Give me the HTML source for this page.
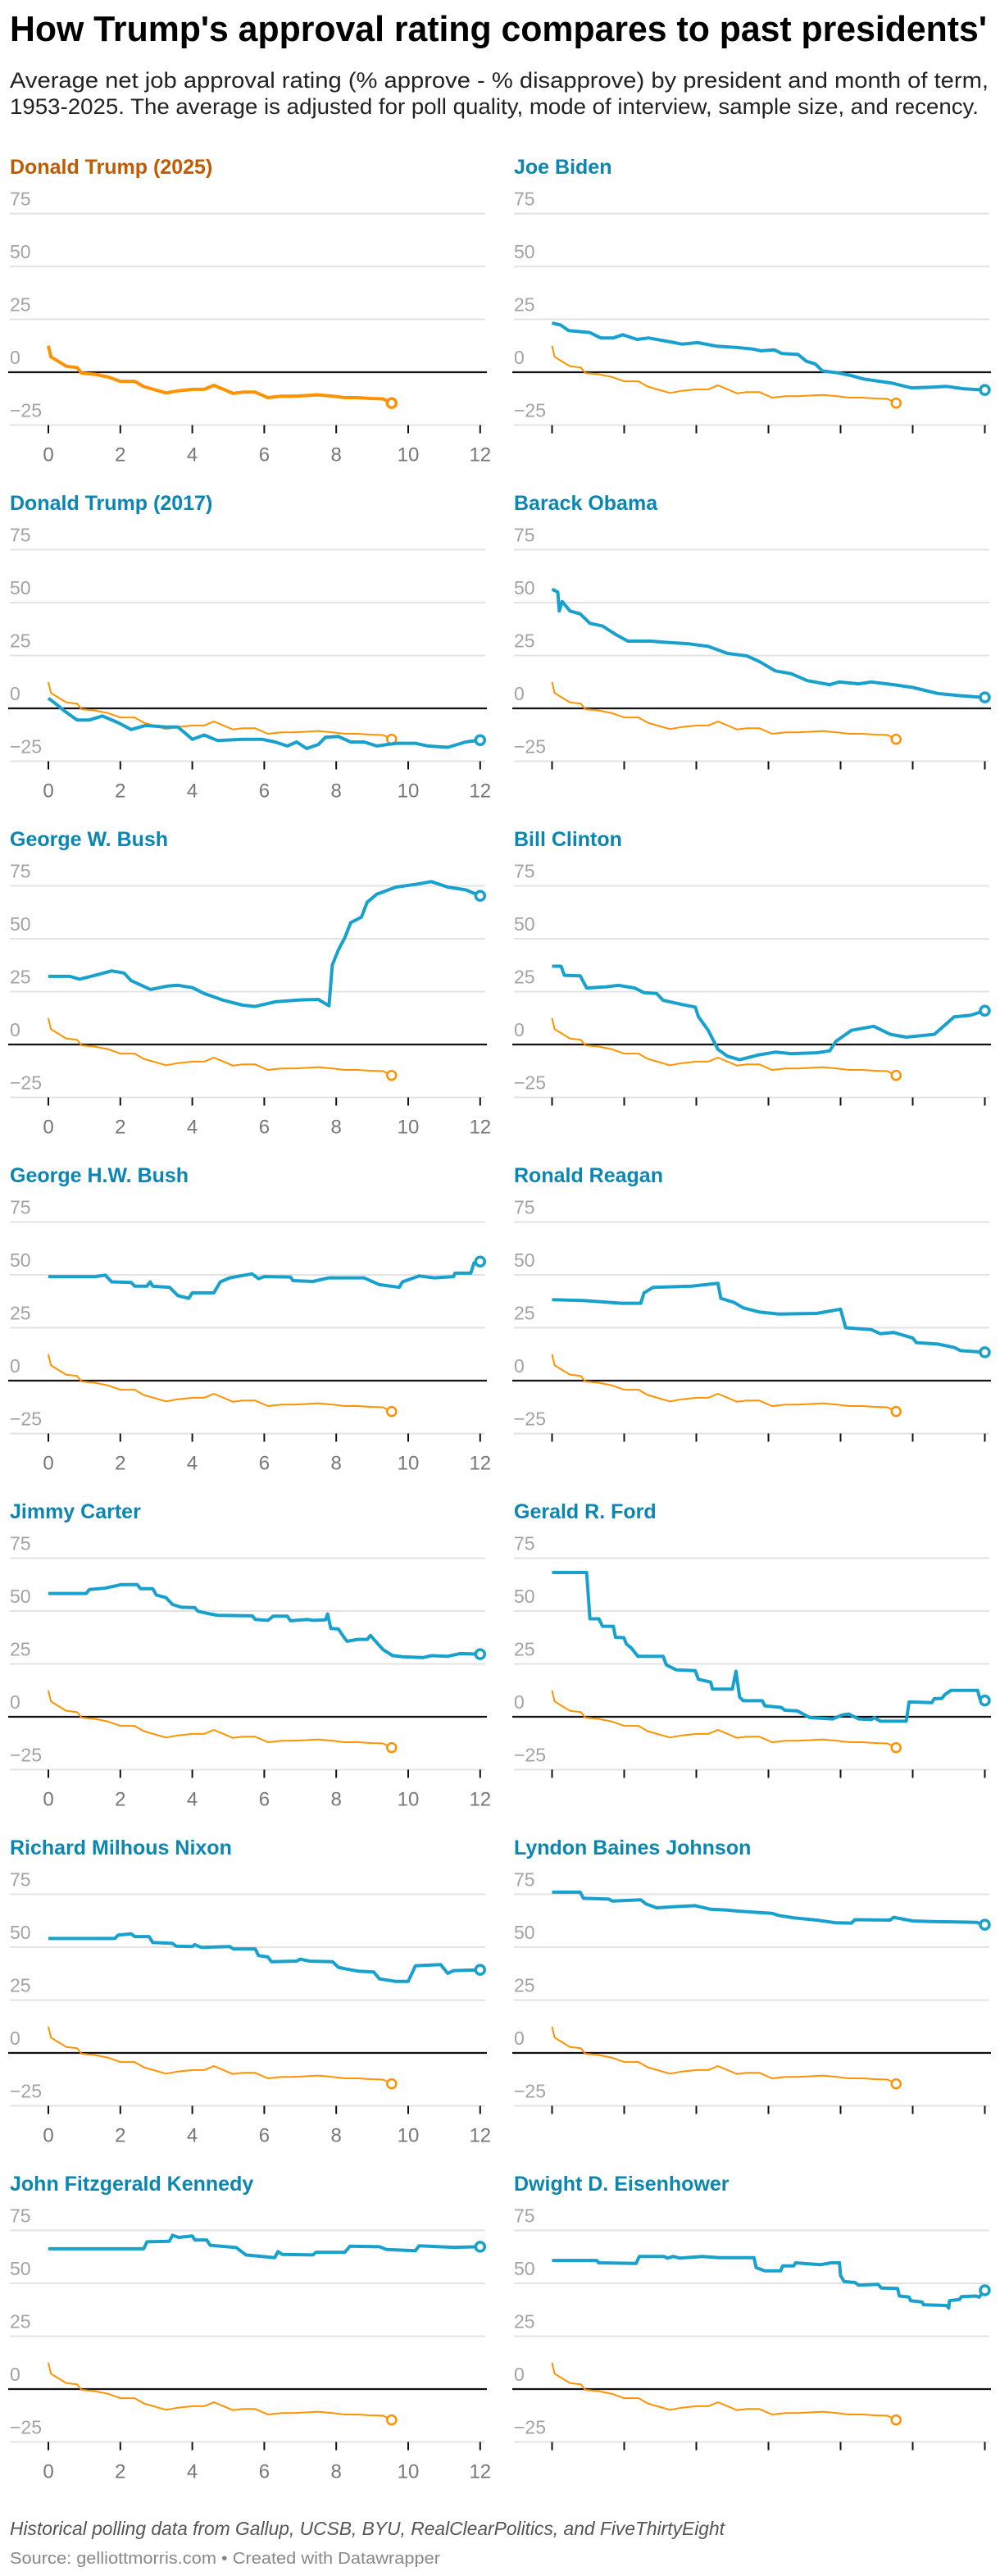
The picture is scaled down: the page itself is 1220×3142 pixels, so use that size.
<!DOCTYPE html>
<html><head><meta charset="utf-8">
<style>
html,body{margin:0;padding:0;background:#fff;}
svg{display:block;font-family:"Liberation Sans",Arial,sans-serif;}
</style></head>
<body>
<svg id="chart" width="1220" height="3142" viewBox="0 0 1220 3142" xmlns="http://www.w3.org/2000/svg">
<text x="12" y="50" font-size="44" font-weight="bold" fill="#000" textLength="1192" lengthAdjust="spacingAndGlyphs">How Trump's approval rating compares to past presidents'</text>
<text x="12" y="107" font-size="27" fill="#222" textLength="1194" lengthAdjust="spacingAndGlyphs">Average net job approval rating (% approve - % disapprove) by president and month of term,</text>
<text x="12" y="139" font-size="27" fill="#222" textLength="1182" lengthAdjust="spacingAndGlyphs">1953-2025. The average is adjusted for poll quality, mode of interview, sample size, and recency.</text>
<g id="panels"></g>
<text x="12" y="3092" font-size="23" font-style="italic" fill="#555" textLength="872" lengthAdjust="spacingAndGlyphs">Historical polling data from Gallup, UCSB, BYU, RealClearPolitics, and FiveThirtyEight</text>
<text x="12" y="3127" font-size="20" fill="#888" textLength="525" lengthAdjust="spacingAndGlyphs">Source: gelliottmorris.com • Created with Datawrapper</text>
</svg>
<script>
const yTicks = [75, 50, 25, 0, -25];
const yTickLabels = ["75", "50", "25", "0", "\u221225"];
const xTicks = [0, 2, 4, 6, 8, 10, 12];
const xTickLabels = ["0", "2", "4", "6", "8", "10", "12"];

const trump25Months = [0,0.07,0.25,0.5,0.8,0.92,1.3,1.67,2,2.4,2.65,3.27,3.6,4,4.33,4.6,4.87,5.13,5.4,5.75,6.1,6.47,6.8,7.2,7.5,7.9,8.24,8.6,8.95,9.3,9.54];
const trump25Values = [12.5,7.3,5.4,2.8,2.2,-0.4,-1,-2.3,-4.3,-4.3,-6.8,-9.8,-8.8,-8.1,-8.1,-6.2,-8.1,-10,-9.4,-9.4,-12,-11.3,-11.3,-11,-10.7,-11.3,-12,-12,-12.4,-12.6,-14.6];

const bidenMonths = [0,0.24,0.46,1.04,1.35,1.7,1.96,2.36,2.67,3.33,3.6,4.04,4.57,5.1,5.54,5.8,6.16,6.38,6.82,7.05,7.3,7.5,7.93,8.29,8.64,9,9.44,9.96,10.5,10.94,11.4,12];
const bidenValues = [23.3,22.3,19.7,18.8,16.2,16.2,17.7,15.5,16.2,14.2,13.3,14,12.3,11.7,11,10.1,10.6,8.8,8.4,5.2,3.9,0.6,-0.3,-1.6,-3.2,-4.1,-5.2,-7.4,-7.1,-6.7,-7.8,-8.4];

const trump17Months = [0,0.16,0.43,0.8,1.14,1.5,1.94,2.3,2.7,3.27,3.6,4,4.33,4.7,5.4,5.93,6.3,6.64,6.9,7.18,7.5,7.7,8.06,8.4,8.77,9.13,9.66,10.2,10.55,11.1,11.6,12];
const trump17Values = [4.8,2.8,-1,-5.5,-5.5,-3.6,-6.8,-10,-8.1,-8.8,-8.8,-14.6,-12.6,-15.2,-14.6,-14.6,-15.9,-17.8,-15.9,-19,-17.1,-13.7,-13.3,-15.9,-15.9,-17.8,-16.5,-16.5,-17.8,-18.4,-15.9,-15];

const obamaMonths = [0,0.16,0.2,0.28,0.5,0.78,1.05,1.4,1.76,2.1,2.73,3.17,3.8,4.33,4.86,5.4,5.74,6.19,6.63,7.08,7.7,7.96,8.5,8.85,9.47,10,10.7,11.24,11.8,12];
const obamaValues = [56.3,55,46,50.5,46,44.7,40.2,38.9,35,31.8,31.8,31.2,30.5,29.3,26,24.8,22.2,17.7,16.4,13.1,11.2,12.5,11.6,12.5,11.2,9.9,7,6.1,5.4,5.2];

const bushWMonths = [0,0.6,0.87,1.3,1.76,2.1,2.3,2.84,3.3,3.6,4,4.33,4.87,5.4,5.75,6.3,7,7.5,7.8,7.89,8.06,8.24,8.4,8.7,8.86,9.13,9.66,10.2,10.64,11.1,11.6,12];
const bushWValues = [32.2,32.2,30.9,32.7,34.8,33.8,30.2,26,27.6,28,26.9,24.1,20.9,18.6,18,20.2,21.1,21.3,18.3,37.6,44.7,50.5,57.6,60.2,67.3,71.1,74.4,75.7,77,74.4,73.1,70.3];

const clintonMonths = [0,0.25,0.34,0.78,0.96,1.5,1.84,2.29,2.55,2.9,3.08,3.6,3.97,4.06,4.33,4.6,4.86,5.2,5.74,6.19,6.63,7.34,7.7,7.87,8.3,8.92,9.38,9.82,10.6,10.9,11.15,11.6,12];
const clintonValues = [37,37,32.7,32.5,26.7,27.3,28,26.7,24.5,24.1,20.9,18.9,17.7,13.1,6.7,-2.3,-5.5,-7.2,-4.9,-3.6,-4.3,-3.9,-3,1.5,6.7,8.6,4.8,3.5,4.8,9.3,13.1,13.8,16];

const bushHWMonths = [0,1.3,1.58,1.76,2.3,2.4,2.74,2.83,2.9,3.37,3.6,3.9,4,4.6,4.78,5.04,5.66,5.84,6,6.73,6.8,7.35,7.8,8.77,9.2,9.75,9.84,10.3,10.73,11.26,11.3,11.74,11.83,12];
const bushHWValues = [49.2,49.2,49.9,46.7,46.4,44.7,44.7,46.7,44.7,44.1,40.2,38.9,41.5,41.5,46.7,48.6,50.5,48.2,49.2,49,47.3,46.9,48.6,48.6,45.4,44.1,46.7,49.5,48.6,49.2,50.8,50.8,55.7,56.3];

const reaganMonths = [0,0.87,1.93,2.46,2.55,2.8,3.87,4.6,4.68,5.04,5.3,5.74,6.28,7.34,8,8.14,8.85,9.1,9.47,10,10.1,10.7,11.15,11.33,12];
const reaganValues = [38.3,37.9,36.6,36.6,41.5,44.1,44.7,46,38.9,37,34.4,32.5,31.5,31.8,33.8,25,24.1,22.2,22.8,20.2,18,17.3,15.7,14.2,13.4];

const carterMonths = [0,1.05,1.14,1.58,2.02,2.47,2.56,2.9,3,3.27,3.45,3.7,4.07,4.16,4.5,4.7,5.67,5.75,6.1,6.25,6.64,6.73,7.2,7.35,7.7,7.76,7.85,8.06,8.24,8.3,8.6,8.86,8.95,9.13,9.3,9.57,9.84,10.4,10.65,11.1,11.44,12];
const carterValues = [58.3,58.3,60.2,60.8,62.5,62.5,60.6,60.6,57.6,56.3,53.1,51.8,51.6,49.9,48.6,48,47.7,46,45.6,47.6,47.6,45.4,46,45.6,45.8,48.6,41.8,41.5,37,35.7,36.6,36.6,38.5,35,31.8,28.9,28.4,28,28.9,28.6,29.9,29.6];

const fordMonths = [0,0.96,1.05,1.3,1.4,1.7,1.76,1.99,2.06,2.2,2.38,3.08,3.17,3.44,3.97,4.06,4.4,4.45,5,5.1,5.2,5.3,5.83,5.9,6.36,6.45,6.8,7.15,7.78,8.05,8.23,8.5,8.85,8.94,9.1,9.82,9.9,10.53,10.6,10.8,10.9,11.06,11.8,11.86,12];
const fordValues = [68.2,68.2,46.3,46.3,42.8,42.8,37.6,37.4,34.4,32.5,28.6,28.6,24.5,22.2,21.8,17.7,16.4,13.1,13.1,21.5,9.3,7.6,7.6,5.2,4.4,3.1,2.8,-0.4,-1,0.9,1.3,-1,-1.3,-0.4,-2.1,-2.1,7,6.7,8.6,8.6,10.6,12.5,12.5,8.6,7.7];

const nixonMonths = [0,1.85,1.94,2.3,2.4,2.8,2.9,3.45,3.55,4,4.07,4.25,5.04,5.14,5.75,5.84,6.1,6.2,6.9,7,7.26,7.9,8.06,8.24,8.6,9.04,9.2,9.66,10,10.2,10.9,11.1,11.26,12];
const nixonValues = [54.1,54.1,55.7,56.3,55,55,52.2,51.8,50.5,50.3,51.2,49.9,50.3,49.2,49.2,46,45.4,43.1,43.4,44.3,43.4,43.1,40.5,39.8,38.7,38.3,35,33.8,33.8,41.2,41.8,37.6,38.9,39.3];

const lbjMonths = [0,0.78,0.87,1.58,1.67,2.46,2.6,2.9,3.44,3.97,4.4,4.86,5.2,5.57,6.1,6.28,6.73,7.34,7.87,8.3,8.4,9.37,9.47,10,10.53,11.24,11.77,12];
const lbjValues = [76,76,73.1,72.7,71.8,72.4,70.5,68.6,69.2,69.6,67.9,67.5,67,66.6,66,65,63.8,62.8,61.5,61.4,63,62.8,64.1,62.4,62.1,61.9,61.7,60.6];

const jfkMonths = [0,2.65,2.74,3.36,3.45,3.62,4,4.07,4.4,4.5,5.22,5.49,6.29,6.38,6.5,7.35,7.44,8.24,8.38,9.2,9.4,10.2,10.3,11.26,12];
const jfkValues = [66.3,66.3,69.6,69.9,72.7,71.7,72.4,70.5,70.5,68,66.9,63.4,62.1,65,63.7,63.4,64.7,64.7,67.5,67.3,66,65.4,67.7,67,67.3];

const ikeMonths = [0,1.24,1.29,2.33,2.42,3.1,3.2,3.36,3.54,4.17,4.63,5.6,5.66,5.9,6.34,6.39,6.7,6.75,7.43,7.74,7.97,8,8.1,8.4,8.5,9.04,9.13,9.58,9.63,9.9,9.94,10.26,10.3,10.94,11,11.02,11.3,11.35,11.75,11.84,12];
const ikeValues = [60.8,60.8,59.7,59.4,62.7,62.7,61.9,62.7,61.9,62.7,62.1,62.1,57.4,55.9,55.9,58.2,58.2,59.7,58.8,59.7,59.7,53.7,50.8,50.4,49.1,49.5,47.8,47.6,44,43.5,41.8,41.2,39.9,39.5,38.3,41.8,42.4,43.7,44,43.5,46.7];

const panelNames = ["Donald Trump (2025)","Joe Biden","Donald Trump (2017)","Barack Obama","George W. Bush","Bill Clinton","George H.W. Bush","Ronald Reagan","Jimmy Carter","Gerald R. Ford","Richard Milhous Nixon","Lyndon Baines Johnson","John Fitzgerald Kennedy","Dwight D. Eisenhower"];
const panelMonths = [null,bidenMonths,trump17Months,obamaMonths,bushWMonths,clintonMonths,bushHWMonths,reaganMonths,carterMonths,fordMonths,nixonMonths,lbjMonths,jfkMonths,ikeMonths];
const panelValues = [null,bidenValues,trump17Values,obamaValues,bushWValues,clintonValues,bushHWValues,reaganValues,carterValues,fordValues,nixonValues,lbjValues,jfkValues,ikeValues];

const NS = "http://www.w3.org/2000/svg";
const root = document.getElementById("panels");
function mk(tag, attrs, parent){ const e=document.createElementNS(NS,tag); for(const k in attrs) e.setAttribute(k,attrs[k]); parent.appendChild(e); return e; }
function slug(s){ return s.toLowerCase().replace(/[^a-z0-9]+/g,'-').replace(/(^-|-$)/g,''); }

panelNames.forEach((name, i) => {
  const col = i % 2, row = Math.floor(i / 2);
  const left = col === 0 ? 12 : 627, right = col === 0 ? 592 : 1207;
  const x0 = col === 0 ? 59 : 673.5, pxPerMonth = col === 0 ? 43.9 : 44.0;
  const zeroY = 454 + 410 * row;
  const xScale = m => x0 + m * pxPerMonth;
  const yScale = v => zeroY - v * 2.58;
  const g = mk("g", {}, root);
  
  
  const t = mk("text", {x:left, y:zeroY-242, "font-size":25, "font-weight":"bold", fill: i===0 ? "#c25b00" : "#0a86b2"}, g);
  t.textContent = name;
  
  
  yTicks.forEach((v, k) => {
    const y = yScale(v);
    if (v !== 0) {
      const gl = mk("line", {x1:left, x2:right, y1:y, y2:y, stroke:"#e3e3e3", "stroke-width":2}, g);
      
      
    }
    const lb = mk("text", {x:left, y:y-10, "font-size":23, fill:"#a3a3a3"}, g);
    lb.textContent = yTickLabels[k];
    
    
  });
  const zl = mk("line", {x1:left-2, x2:right+2, y1:zeroY, y2:zeroY, stroke:"#111", "stroke-width":2.2}, g);
  
  
  xTicks.forEach((m, k) => {
    const x = xScale(m), yb = yScale(-25);
    const tk = mk("line", {x1:x, x2:x, y1:yb, y2:yb+10, stroke:"#111", "stroke-width":2}, g);
    
    
    if (col === 0) {
      const lb = mk("text", {x:x, y:yb+44, "font-size":24, fill:"#777", "text-anchor":"middle"}, g);
      lb.textContent = xTickLabels[k];
      
      
    }
  });
  const tw = i === 0 ? 4 : 2;
  const tp = trump25Months.map((m, k) => xScale(m).toFixed(1) + "," + yScale(trump25Values[k]).toFixed(1)).join(" ");
  const tl = mk("polyline", {points:tp, fill:"none", stroke:"#ff9200", "stroke-width":tw, "stroke-linejoin":"round"}, g);
  
  
  const tn = trump25Months.length - 1;
  const tc = mk("circle", {cx:xScale(trump25Months[tn]), cy:yScale(trump25Values[tn]), r:5.5, fill:"#fff", stroke:"#ff9200", "stroke-width":i===0?3.5:2.5}, g);
  
  
  if (panelMonths[i]) {
    const ms = panelMonths[i], vs = panelValues[i];
    const pts = ms.map((m, k) => xScale(m).toFixed(1) + "," + yScale(vs[k]).toFixed(1)).join(" ");
    const pl = mk("polyline", {points:pts, fill:"none", stroke:"#18a1cd", "stroke-width":4, "stroke-linejoin":"round"}, g);
    
    
    const n = ms.length - 1;
    const c = mk("circle", {cx:xScale(ms[n]), cy:yScale(vs[n]), r:5.5, fill:"#fff", stroke:"#18a1cd", "stroke-width":3.5}, g);
    
    
  }
});
</script>
</body></html>
